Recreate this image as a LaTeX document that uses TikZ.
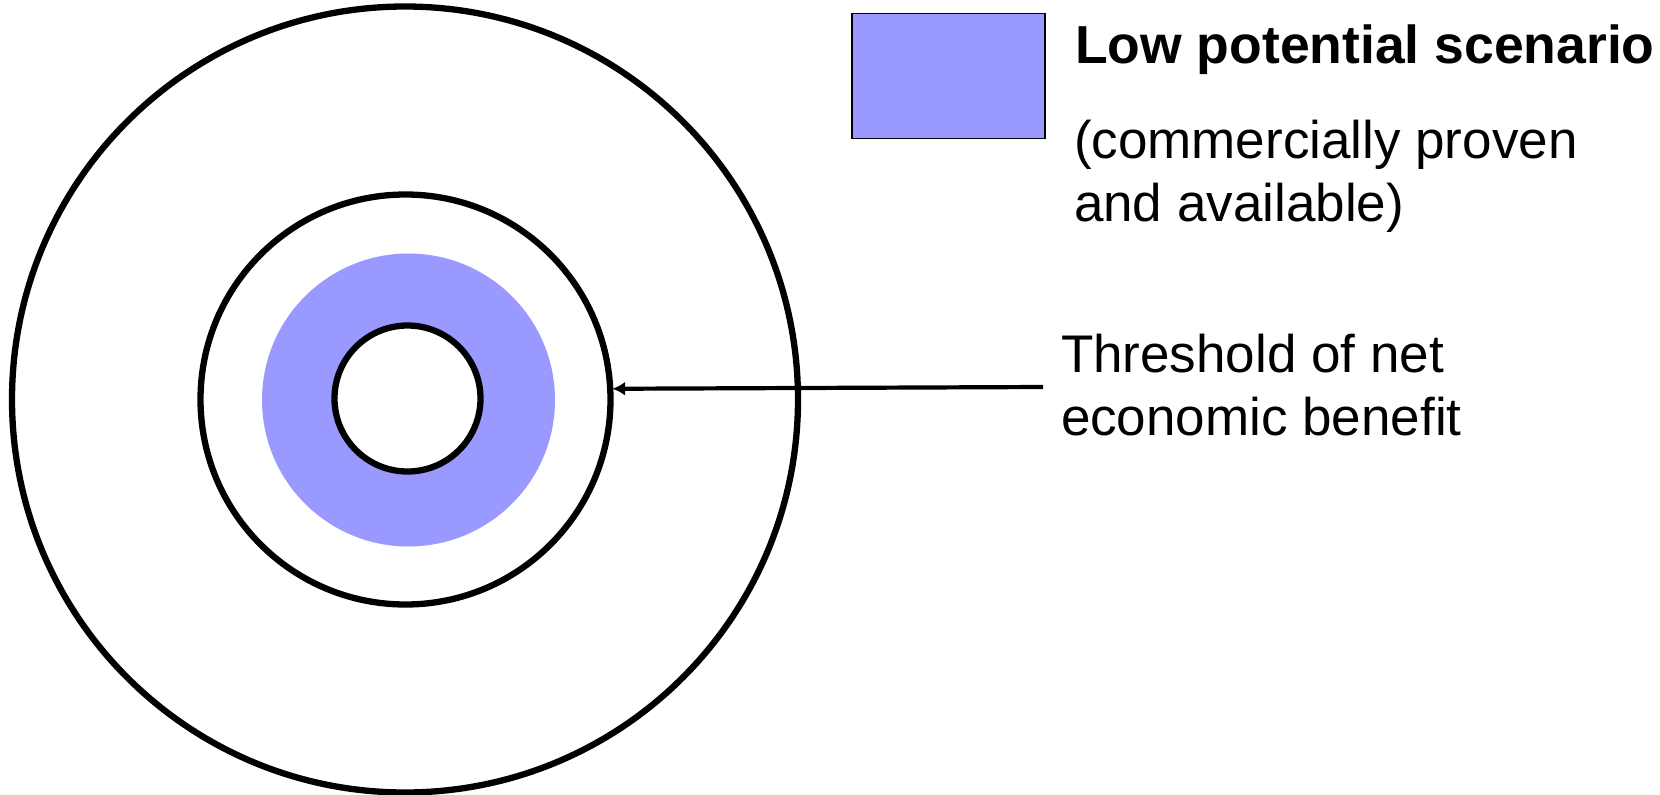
\documentclass[tikz,border=0pt]{standalone}
\usepackage{fontspec}
\setmainfont{Liberation Sans}
\usetikzlibrary{arrows.meta}
\definecolor{lowblue}{HTML}{9999FF}
\tikzset{
  ring/.style={circle, draw=black, line width=6.3pt, inner sep=0pt, outer sep=0pt, minimum size=#1},
  txt/.style={anchor=base west, inner sep=0pt, outer sep=0pt, font=\fontsize{53}{63}\selectfont},
  boldtxt/.style={anchor=base west, inner sep=0pt, outer sep=0pt, font=\fontsize{53.5}{63}\selectfont\bfseries},
  pointer/.style={line width=4.2pt, -{Latex[length=13pt,width=14pt]}}
}
\begin{document}
\begin{tikzpicture}[x=1pt,y=-1pt]
\useasboundingbox (0,0) rectangle (1660,795);
\node[ring=786pt] (outer) at (405,399.5) {};
\node[ring=410pt] (mid) at (405.5,399.5) {};
\node[circle, fill=lowblue, inner sep=0pt, minimum size=293pt] (blue) at (408.5,400) {};
\node[ring=146pt, fill=white] (inner) at (407.5,398.5) {};
\node[draw=black, line width=1.8pt, fill=lowblue, inner sep=0pt, minimum width=193pt, minimum height=125pt] (legend) at (948.5,76) {};
\node[boldtxt] (lowlabel) at (1075,63.7) {Low potential scenario};
\node[txt] (comm1) at (1074,158.5) {(commercially proven};
\node[txt] (comm2) at (1074,221.5) {and available)};
\node[txt] (thr1) at (1061,372.5) {Threshold of net};
\node[txt] (thr2) at (1061,435.5) {economic benefit};
\coordinate (arrstart) at (1043,387);
\draw[pointer] (arrstart) -- ([xshift=2pt]mid.3.5);
\end{tikzpicture}
\end{document}
